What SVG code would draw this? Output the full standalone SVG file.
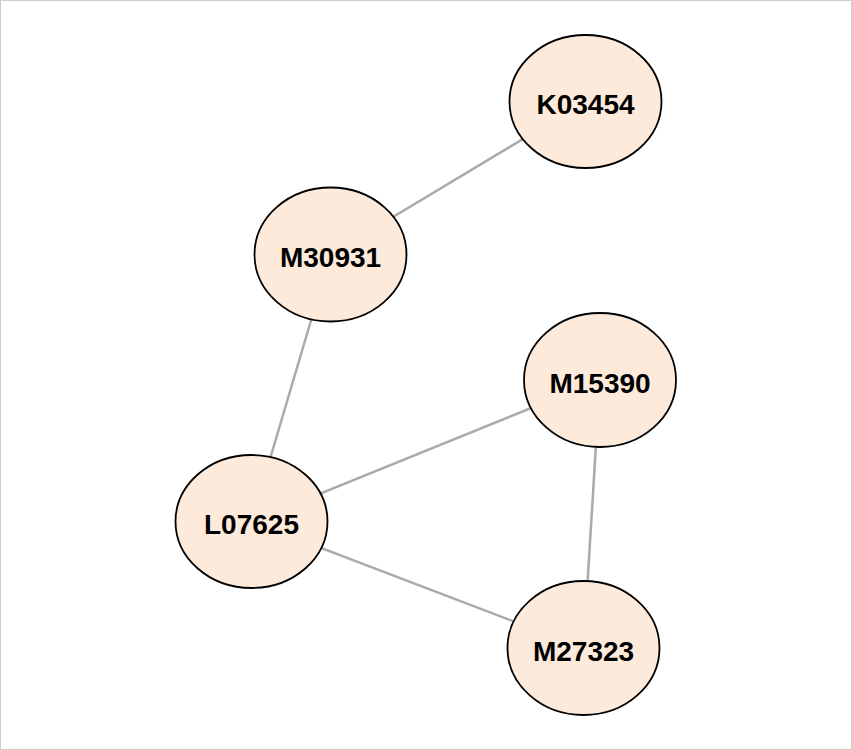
<svg xmlns="http://www.w3.org/2000/svg" width="852" height="750" viewBox="0 0 852 750">
<style>
.node ellipse{fill:#fdeadb;stroke:#000;stroke-width:1.8}
.node text{font-family:"Liberation Sans",Arial,sans-serif;font-weight:bold;font-size:28px;text-anchor:middle;fill:#000}
#edges line{stroke:#aaaaaa;stroke-width:2.5}
</style>
<rect x="0.5" y="0.5" width="851" height="749" fill="#fff" stroke="#cccccc" stroke-width="1"/>
<g id="edges">
<line x1="585.5" y1="101.5" x2="330.5" y2="254.5"/>
<line x1="330.5" y1="254.5" x2="251.5" y2="521.5"/>
<line x1="251.5" y1="521.5" x2="600" y2="380"/>
<line x1="251.5" y1="521.5" x2="583.5" y2="648"/>
<line x1="600" y1="380" x2="583.5" y2="648"/>
</g>
<g id="K03454" class="node"><ellipse cx="585.5" cy="101.5" rx="76" ry="66.5"/><text x="585.5" y="114">K03454</text></g>
<g id="M30931" class="node"><ellipse cx="330.5" cy="254.5" rx="76" ry="67"/><text x="330.5" y="267">M30931</text></g>
<g id="M15390" class="node"><ellipse cx="600" cy="380" rx="76" ry="67"/><text x="600" y="392.5">M15390</text></g>
<g id="L07625" class="node"><ellipse cx="251.5" cy="521.5" rx="76" ry="66.5"/><text x="251.5" y="534">L07625</text></g>
<g id="M27323" class="node"><ellipse cx="583.5" cy="648" rx="76" ry="67"/><text x="583.5" y="660.5">M27323</text></g>
</svg>
